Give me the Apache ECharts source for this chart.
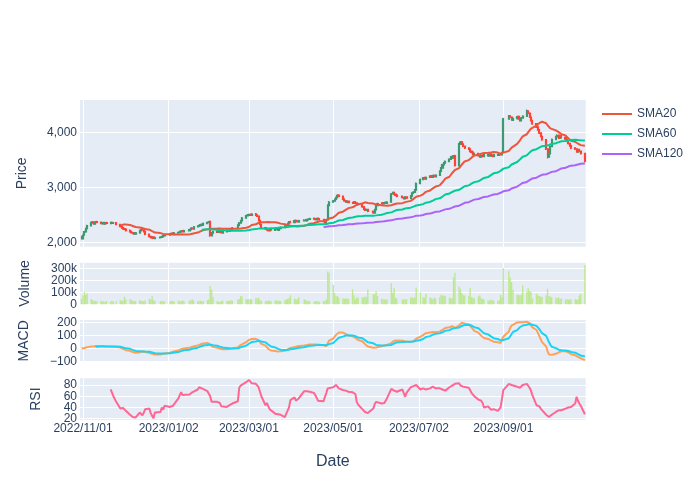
<!DOCTYPE html>
<html><head><meta charset="utf-8">
<script src="https://cdn.jsdelivr.net/npm/echarts@6/dist/echarts.min.js"></script>
<style>html,body{margin:0;padding:0;background:#fff}#c{width:700px;height:500px}</style>
</head><body><div id="c"></div>
<script>
// ---- calendar (trading days) ----
const FIRST_DAY = '2022-10-31';
const LAST_DAY = '2023-10-30';
const HOLIDAYS = ['2022-11-24','2022-12-26','2023-01-02','2023-01-16','2023-02-20','2023-04-07','2023-05-29','2023-06-19','2023-07-04','2023-09-04'];
const TICK_DATES = ['2022-11-01','2023-01-02','2023-03-01','2023-05-01','2023-07-02','2023-09-01'];

// ---- OHLC (Oct31, then Nov..Oct, one row per month) ----
const open = [2110,
2070,2135,2195,2255,2305,2380,2365,2335,2385,2375,2340,2370,2335,2365,2345,2370,2350,2365,2335,2295,2275,
2255,2245,2225,2205,2185,2175,2155,2175,2215,2245,2235,2205,2155,2115,2085,2105,2075,2085,2095,2105,2125,
2135,2155,2175,2145,2175,2185,2195,2215,2195,2215,2235,2265,2245,2285,2295,2305,2335,2315,2345,2365,
2390,2125,2175,2205,2185,2215,2205,2175,2195,2225,2205,2225,2245,2265,2315,2355,2395,2445,2485,
2495,2515,2495,2525,2505,2485,2405,2335,2275,2255,2235,2215,2245,2225,2235,2255,2225,2255,2275,2295,2315,2345,2385,
2365,2405,2395,2375,2395,2415,2395,2415,2425,2445,2435,2415,2445,2435,2425,2385,2355,2415,2675,
2735,2755,2785,2815,2865,2845,2795,2765,2735,2755,2735,2715,2745,2725,2705,2695,2655,2615,2585,2605,2575,2535,
2595,2675,2705,2725,2705,2735,2715,2735,2885,2915,2885,2865,2845,2825,2795,2835,2805,2845,2895,2915,2955,
3075,3145,3185,3155,3185,3215,3185,3225,3195,3225,3295,3355,3415,3445,3475,3515,3565,3535,3585,3395,
3785,3835,3795,3755,3725,3705,3665,3645,3595,3625,3585,3555,3595,3565,3605,3575,3615,3595,3565,3605,3585,3615,3595,
3640,4245,4305,4285,4225,4255,4295,4255,4215,4265,4295,4395,4355,4285,4225,4165,4105,4055,3995,3935,
3875,3705,3555,3615,3745,3875,3925,3955,3895,3945,3915,3885,3855,3805,3765,3725,3705,3645,3695,3665,3625];
const high = [2125,
2150,2215,2270,2325,2390,2395,2375,2395,2400,2385,2375,2380,2375,2380,2380,2385,2375,2375,2345,2310,2285,
2270,2255,2240,2215,2200,2185,2195,2235,2255,2260,2245,2215,2165,2125,2115,2115,2105,2115,2125,2145,2155,
2175,2185,2190,2195,2205,2215,2225,2230,2235,2255,2275,2280,2305,2315,2325,2345,2350,2365,2385,2395,
2405,2195,2215,2220,2225,2230,2215,2215,2235,2240,2245,2265,2285,2335,2375,2415,2465,2505,2520,
2525,2530,2535,2540,2515,2495,2415,2345,2285,2265,2245,2255,2260,2255,2265,2265,2275,2295,2315,2335,2365,2395,2400,
2415,2420,2410,2415,2425,2430,2435,2445,2455,2460,2450,2455,2460,2450,2435,2395,2435,2700,2760,
2775,2805,2835,2880,2880,2855,2805,2775,2765,2765,2745,2755,2755,2735,2715,2705,2665,2625,2615,2615,2585,2615,
2695,2725,2735,2740,2745,2750,2755,2905,2925,2930,2895,2875,2855,2835,2845,2845,2865,2915,2935,2975,3095,
3165,3195,3200,3205,3225,3230,3235,3240,3245,3315,3375,3435,3465,3495,3535,3575,3580,3595,3600,3810,
3850,3850,3805,3765,3735,3715,3675,3655,3635,3635,3595,3605,3605,3615,3615,3625,3625,3605,3615,3615,3625,3625,3655,
4270,4320,4320,4295,4275,4305,4310,4265,4285,4315,4420,4410,4365,4295,4235,4175,4115,4065,4005,3945,
3885,3715,3635,3765,3895,3945,3970,3965,3955,3960,3925,3895,3865,3815,3775,3735,3715,3705,3705,3675,3635];
const low = [2060,
2060,2125,2180,2245,2295,2345,2325,2325,2355,2335,2330,2325,2325,2335,2335,2340,2340,2315,2275,2255,2235,
2225,2205,2185,2165,2155,2145,2145,2165,2205,2215,2185,2135,2095,2075,2075,2065,2065,2075,2085,2095,2115,
2125,2145,2140,2135,2165,2175,2185,2185,2185,2205,2225,2235,2235,2275,2285,2295,2305,2305,2335,2355,
2110,2115,2165,2175,2175,2185,2165,2165,2185,2195,2195,2215,2235,2255,2305,2345,2385,2435,2475,
2485,2485,2485,2485,2465,2385,2315,2255,2235,2215,2205,2205,2215,2215,2225,2215,2215,2245,2265,2285,2305,2335,2355,
2355,2375,2365,2365,2385,2385,2385,2405,2415,2415,2405,2405,2415,2405,2365,2345,2345,2405,2665,
2725,2745,2775,2805,2825,2775,2745,2725,2725,2715,2705,2705,2705,2685,2675,2635,2595,2575,2575,2555,2525,2525,
2585,2665,2695,2695,2695,2705,2705,2725,2875,2865,2845,2825,2805,2785,2785,2795,2795,2835,2885,2905,2945,
3065,3135,3145,3145,3175,3175,3175,3185,3185,3215,3285,3345,3405,3435,3465,3505,3525,3525,3385,3385,
3775,3775,3735,3705,3685,3645,3625,3585,3585,3565,3545,3545,3555,3555,3565,3565,3575,3555,3555,3575,3575,3585,3585,
3630,4235,4265,4215,4215,4245,4235,4205,4205,4255,4285,4335,4265,4205,4145,4085,4035,3975,3915,3855,
3685,3530,3545,3605,3735,3865,3915,3885,3885,3895,3865,3835,3785,3745,3705,3685,3635,3635,3645,3605,3460];
const close = [2075,
2140,2200,2260,2310,2370,2360,2340,2380,2370,2350,2360,2340,2360,2350,2365,2355,2360,2330,2290,2270,2250,
2240,2220,2200,2180,2170,2160,2180,2220,2240,2230,2200,2150,2110,2090,2100,2080,2090,2100,2110,2130,2140,
2160,2170,2150,2180,2190,2200,2210,2200,2220,2240,2260,2250,2290,2300,2310,2330,2320,2350,2370,2380,
2130,2180,2200,2190,2210,2200,2180,2200,2220,2210,2230,2250,2270,2320,2360,2400,2450,2490,2500,
2510,2500,2520,2500,2480,2400,2330,2270,2250,2230,2220,2240,2230,2240,2250,2230,2260,2280,2300,2320,2350,2380,2370,
2400,2390,2380,2400,2410,2400,2420,2430,2440,2430,2420,2440,2430,2420,2380,2360,2420,2680,2740,
2760,2790,2820,2860,2840,2790,2760,2740,2750,2730,2720,2740,2720,2700,2690,2650,2610,2590,2600,2570,2540,2600,
2680,2710,2720,2710,2730,2720,2740,2890,2910,2880,2860,2840,2820,2800,2830,2810,2850,2900,2920,2960,3080,
3150,3180,3160,3190,3210,3190,3220,3200,3230,3300,3360,3420,3450,3480,3520,3560,3540,3580,3400,3790,
3830,3790,3750,3720,3700,3660,3640,3600,3620,3580,3560,3590,3570,3600,3580,3610,3590,3570,3600,3590,3610,3600,3640,
4250,4300,4280,4230,4260,4290,4250,4220,4270,4300,4390,4350,4280,4220,4160,4100,4050,3990,3930,3870,
3700,3560,3620,3750,3880,3930,3950,3900,3940,3910,3880,3850,3800,3760,3720,3700,3650,3690,3660,3620,3480];
const volume = [45000,
75000,105000,80000,90000,45000,35000,30000,28000,25000,30000,22000,25000,20000,28000,24000,30000,22000,26000,35000,30000,28000,
63000,40000,42000,38000,30000,25000,28000,35000,30000,25000,28000,32000,45000,40000,70000,35000,28000,25000,30000,26000,22000,
25000,30000,28000,24000,30000,26000,28000,32000,25000,30000,35000,42000,30000,28000,26000,30000,25000,28000,35000,40000,
153000,122000,61000,25000,20000,22000,28000,30000,25000,30000,28000,35000,30000,40000,45000,70000,65000,45000,40000,
42000,45000,40000,53000,48000,55000,35000,30000,25000,30000,28000,32000,26000,30000,35000,28000,30000,25000,35000,40000,45000,50000,75000,
47000,42000,40000,61000,45000,35000,30000,28000,25000,22000,25000,28000,24000,22000,26000,30000,40000,275000,265000,
165000,95000,65000,70000,55000,50000,48000,45000,50000,45000,125000,75000,40000,60000,55000,60000,55000,65000,60000,125000,85000,85000,
108000,70000,45000,42000,40000,38000,40000,178000,97000,136000,55000,45000,40000,42000,38000,45000,55000,60000,50000,60000,139000,
100000,60000,55000,89000,60000,50000,45000,55000,50000,60000,80000,70000,75000,70000,55000,52000,48000,228000,264000,150000,
130000,94000,75000,75000,70000,139000,60000,55000,50000,67000,75000,50000,45000,40000,35000,30000,40000,35000,30000,28000,35000,80000,60000,
303000,278000,222000,186000,122000,80000,78000,75000,80000,158000,103000,136000,111000,103000,50000,89000,75000,70000,65000,61000,
75000,130000,70000,65000,60000,55000,50000,60000,45000,50000,40000,45000,38000,42000,40000,45000,38000,42000,75000,89000,330000];

// RSI: starts at trading day #15 (2022-11-21)
const RSI_START = 15;
const rsiValues = [
72,70,60,50,38,38,39,
41,34,27,24,23,22,22,31,28,26,31,37,38,30,25,21,31,32,40,36,43,
41,41,43,46,56,62,67,62,59,63,62,67,70,72,76,75,74,74,69,72,
60,50,50,50,49,48,42,40,41,42,44,46,47,51,75,79,80,85,87,
89,86,83,82,79,76,68,60,44,48,42,37,34,29,28,28,28,27,23,29,31,40,53,
58,52,54,56,69,70,69,68,68,66,62,57,52,51,51,59,66,74,75,
76,77,80,78,74,71,70,70,69,68,67,66,64,50,45,37,35,32,31,30,38,46,
50,50,47,47,48,51,57,73,71,70,69,68,72,70,59,66,76,77,78,79,80,
72,74,73,72,74,76,77,75,74,74,74,72,70,70,76,78,79,80,82,83,
79,77,77,78,75,71,66,63,60,54,53,52,48,40,42,40,36,35,37,34,33,40,55,
71,82,81,80,79,77,76,75,76,80,82,79,75,70,62,44,44,42,38,35,
27,24,23,25,27,32,34,35,35,35,38,39,40,41,41,47,59,52,47,43,28];

// axis tick values
const priceTicks = [2000, 3000, 4000];
const volumeTicks = [0, 100000, 200000, 300000];
const macdTicks = [-100, 0, 100, 200];
const rsiTicksA = [20, 60];
const rsiTicksB = [40, 80];

// ---- helpers ----
const DAY = 86400000;
function parseDay(s){const p=s.split('-');return Date.UTC(+p[0],+p[1]-1,+p[2]);}
function pad(n){return (n<10?'0':'')+n;}
function isoDay(t){const d=new Date(t);return d.getUTCFullYear()+'-'+pad(d.getUTCMonth()+1)+'-'+pad(d.getUTCDate());}
function slashDay(t){const d=new Date(t);return d.getUTCFullYear()+'/'+pad(d.getUTCMonth()+1)+'/'+pad(d.getUTCDate());}

const dates = [];
for (let t = parseDay(FIRST_DAY); t <= parseDay(LAST_DAY); t += DAY) {
  const wd = new Date(t).getUTCDay();
  if (wd === 0 || wd === 6) continue;
  if (HOLIDAYS.indexOf(isoDay(t)) >= 0) continue;
  dates.push(t);
}
const N = Math.min(dates.length, open.length, high.length, low.length, close.length, volume.length);

// moving averages / MACD derived from the close prices
function sma(n){const r=[];for(let i=0;i<N;i++){if(i<n-1){r.push(null);continue;}let s=0;for(let j=i-n+1;j<=i;j++)s+=close[j];r.push(s/n);}return r;}
function ema(arr, span){const a=2/(span+1);let num=0,den=0;const r=[];for(let i=0;i<arr.length;i++){num=arr[i]+(1-a)*num;den=1+(1-a)*den;r.push(num/den);}return r;}
const sma20 = sma(20), sma60 = sma(60), sma120 = sma(120);
const c = close.slice(0, N);
const e12 = ema(c, 12), e26 = ema(c, 26);
const macd = c.map((_, i) => e12[i] - e26[i]);
const sigFull = ema(macd, 9);
const signal = sigFull.map((v, i) => i < 8 ? null : v);
function pairs(arr){const r=[];for(let i=0;i<N;i++){if(arr[i]!=null)r.push([dates[i],arr[i]]);}return r;}
const rsiData = [];
for (let i = 0; i < rsiValues.length && RSI_START + i < N; i++) rsiData.push([dates[RSI_START + i], rsiValues[i]]);

const candleData = [];
const volData = [];
for (let i = 0; i < N; i++) {
  candleData.push([dates[i], open[i], close[i], low[i], high[i]]);
  volData.push([dates[i], volume[i]]);
}

// ---- layout ----
const FONT = '"Liberation Sans", Arial, sans-serif';
const TXT = '#2a3f5f';
const xMin = Date.UTC(2022, 9, 29, 20), xMax = Date.UTC(2023, 9, 30, 14);
const tickVals = TICK_DATES.map(parseDay);
const grids = [
  {left: 80, width: 505.7, top: 100, height: 146.7},
  {left: 80, width: 505.7, top: 262.7, height: 41.6},
  {left: 80, width: 505.7, top: 320, height: 41.6},
  {left: 80, width: 505.7, top: 378.3, height: 41.7}
].map(g => Object.assign({show: true, backgroundColor: '#E5ECF6', borderWidth: 0}, g));

function xAxis(gi, last) {
  return {
    type: 'value', gridIndex: gi, min: xMin, max: xMax,
    axisLine: {show: false},
    axisTick: {show: false, customValues: tickVals},
    axisLabel: {show: last, customValues: tickVals, formatter: v => slashDay(v), color: TXT, fontSize: 12, fontFamily: FONT, margin: 3, hideOverlap: false},
    splitLine: {show: true, lineStyle: {color: '#ffffff', width: 1}},
    name: last ? 'Date' : '', nameLocation: 'middle', nameGap: 34,
    nameTextStyle: {color: TXT, fontSize: 16, fontFamily: FONT}
  };
}
function yAxis(gi, min, max, ticks, fmt, name, gap) {
  return {
    type: 'value', gridIndex: gi, min: min, max: max, position: 'left', offset: 0,
    axisLine: {show: false},
    axisTick: {show: false, customValues: ticks},
    axisLabel: {customValues: ticks, formatter: fmt, color: TXT, fontSize: 12, fontFamily: FONT, margin: 3,
      hideOverlap: false, showMinLabel: true, showMaxLabel: true},
    splitLine: {show: true, lineStyle: {color: '#ffffff', width: 1}},
    name: name, nameLocation: 'middle', nameRotate: 90, nameGap: gap,
    nameTextStyle: {color: TXT, fontSize: 14, fontFamily: FONT}
  };
}

const option = {
  animation: false,
  backgroundColor: '#ffffff',
  textStyle: {fontFamily: FONT},
  grid: grids,
  legend: {
    data: ['SMA20', 'SMA60', 'SMA120'], orient: 'vertical', left: 597, top: 102,
    itemWidth: 30, itemHeight: 2, icon: 'rect', itemGap: 6, selectedMode: false,
    textStyle: {color: TXT, fontSize: 12, fontFamily: FONT, lineHeight: 14}
  },
  xAxis: [xAxis(0, false), xAxis(1, false), xAxis(2, false), xAxis(3, true)],
  yAxis: [
    yAxis(0, 1927, 4594, priceTicks, v => v.toLocaleString('en-US'), 'Price', 51),
    yAxis(1, 0, 349000, volumeTicks, v => v === 0 ? '0' : (v / 1000) + 'k', 'Volume', 48),
    yAxis(2, -102, 221, macdTicks, v => v < 0 ? '\u2212' + Math.abs(v) : String(v), 'MACD', 49),
    yAxis(3, 17.7, 91.9, rsiTicksA, v => String(v), 'RSI', 37),
    yAxis(3, 17.7, 91.9, rsiTicksB, v => String(v), '', 37)
  ],
  series: [
    {type: 'candlestick', name: 'Price', xAxisIndex: 0, yAxisIndex: 0, data: candleData,
     encode: {x: 0, y: [1, 2, 3, 4]}, barWidth: 1.6,
     itemStyle: {color: '#3D9970', color0: '#FF4136', borderColor: '#3D9970', borderColor0: '#FF4136', borderWidth: 1.2}},
    {type: 'line', name: 'SMA20', xAxisIndex: 0, yAxisIndex: 0, data: pairs(sma20), showSymbol: false, symbol: 'none',
     lineStyle: {color: '#EF553B', width: 2}, itemStyle: {color: '#EF553B'}},
    {type: 'line', name: 'SMA60', xAxisIndex: 0, yAxisIndex: 0, data: pairs(sma60), showSymbol: false, symbol: 'none',
     lineStyle: {color: '#00CC96', width: 2}, itemStyle: {color: '#00CC96'}},
    {type: 'line', name: 'SMA120', xAxisIndex: 0, yAxisIndex: 0, data: pairs(sma120), showSymbol: false, symbol: 'none',
     lineStyle: {color: '#AB63FA', width: 2}, itemStyle: {color: '#AB63FA'}},
    {type: 'bar', name: 'Volume', xAxisIndex: 1, yAxisIndex: 1, data: volData, barWidth: 1.4,
     itemStyle: {color: '#B6E880', opacity: 0.85}},
    {type: 'line', name: 'MACD', xAxisIndex: 2, yAxisIndex: 2, data: pairs(macd), symbol: 'none',
     lineStyle: {color: '#FFA15A', width: 2}, itemStyle: {color: '#FFA15A'}},
    {type: 'line', name: 'Signal', xAxisIndex: 2, yAxisIndex: 2, data: pairs(signal), symbol: 'none',
     lineStyle: {color: '#19D3F3', width: 2}, itemStyle: {color: '#19D3F3'}},
    {type: 'line', name: 'RSI', xAxisIndex: 3, yAxisIndex: 3, data: rsiData, symbol: 'none',
     lineStyle: {color: '#FF6692', width: 2}, itemStyle: {color: '#FF6692'}}
  ]
};
const chart = echarts.init(document.getElementById('c'), null, {renderer: 'canvas'});
chart.setOption(option);
</script>
</body></html>
